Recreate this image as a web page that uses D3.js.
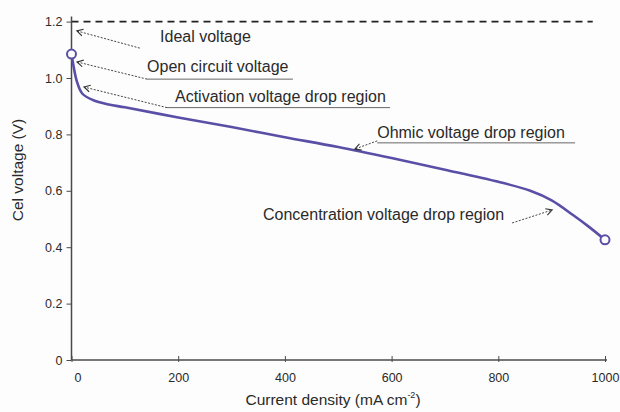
<!DOCTYPE html>
<html>
<head>
<meta charset="utf-8">
<script src="https://cdn.jsdelivr.net/npm/d3@7"></script>
<style>
html,body{margin:0;padding:0;background:#fdfdfd;}
svg{display:block;font-family:"Liberation Sans",Arial,sans-serif;}
</style>
</head>
<body>
<svg id="chart" width="620" height="412"></svg>
<script>
// Data
const currentDensity = [0, 5, 10, 20, 40, 70, 100, 200, 300, 400, 500, 600, 700, 800, 860, 900, 940, 970, 1000];
const cellVoltage    = [1.085, 1.03, 0.988, 0.945, 0.922, 0.906, 0.896, 0.860, 0.826, 0.790, 0.755, 0.716, 0.675, 0.632, 0.600, 0.566, 0.514, 0.472, 0.426];
const idealVoltage = 1.2;
const xTicks = [0, 200, 400, 600, 800, 1000];
const xTickLabels = ["0", "200", "400", "600", "800", "1000"];
const yTicks = [0, 0.2, 0.4, 0.6, 0.8, 1.0, 1.2];
const yTickLabels = ["0", "0.2", "0.4", "0.6", "0.8", "1.0", "1.2"];
const annotationLabels = ["Ideal voltage", "Open circuit voltage", "Activation voltage drop region", "Ohmic voltage drop region", "Concentration voltage drop region"];
// annotation anchors in data units: text start (x, v), arrow from (x,v) to (x,v), underline
const annTextX   = [166, 141.6, 194, 573, 359];
const annTextV   = [1.128, 1.021, 0.915, 0.787, 0.496];
const annFromX   = [128, 141.6, 179, 573, 826];
const annFromV   = [1.106, 0.996, 0.895, 0.777, 0.486];
const annToX     = [10, 10.3, 23.4, 531, 901];
const annToV     = [1.167, 1.057, 0.968, 0.748, 0.532];
const annUnderV  = [null, 0.996, 0.895, 0.770, null];
const annUnderX0 = [null, 141.6, 179, 573, null];
const annUnderX1 = [null, 415, 597, 944, null];

const svg = d3.select("#chart");
const x = d3.scaleLinear().domain([0, 1000]).range([71.5, 605]);
const y = d3.scaleLinear().domain([0, 1.2]).range([360, 21.6]);
const purple = "#5a4fa6";
const textCol = "#2a2a2a";
const axisCol = "#4a4a4a";

// Ideal voltage dashed line
svg.append("line")
  .attr("x1", x(0)).attr("x2", x(977))
  .attr("y1", y(idealVoltage)).attr("y2", y(idealVoltage))
  .attr("stroke", "#222").attr("stroke-width", 1.6)
  .attr("stroke-dasharray", "7,5");

// Y axis
const yAxis = d3.axisLeft(y).tickValues(yTicks)
  .tickFormat((d, i) => yTickLabels[i]).tickSize(5).tickPadding(4);
const gy = svg.append("g").attr("transform", `translate(${x(0)},0)`).call(yAxis);
gy.select(".domain").attr("stroke", axisCol).attr("stroke-width", 1.5)
  .attr("d", `M0,${y(0)}V${y(1.2) - 5}`);
gy.selectAll(".tick line").attr("stroke", axisCol);
gy.selectAll(".tick text").attr("fill", textCol).attr("font-size", 12.5)
  .attr("font-family", "Liberation Sans, Arial, sans-serif");

// X axis
const xAxis = d3.axisBottom(x).tickValues(xTicks).tickFormat((d, i) => xTickLabels[i])
  .tickSizeInner(3).tickSizeOuter(0).tickPadding(10);
const gx = svg.append("g").attr("transform", `translate(0,${y(0)})`).call(xAxis);
gx.select(".domain").attr("stroke", axisCol).attr("stroke-width", 1.5)
  .attr("d", `M${x(0)},0H${x(1000) + 2}`);
gx.selectAll(".tick line").attr("stroke", axisCol).attr("y1", -4).attr("y2", 2);
gx.selectAll(".tick text").attr("fill", textCol).attr("font-size", 12.5)
  .attr("font-family", "Liberation Sans, Arial, sans-serif")
  .attr("dx", d => d === 0 ? 6 : 0);

// Axis titles
const xt = svg.append("text").attr("x", 333).attr("y", 405)
  .attr("text-anchor", "middle").attr("fill", textCol).attr("font-size", 15.5);
xt.append("tspan").text("Current density (mA cm");
xt.append("tspan").text("-2").attr("font-size", 9).attr("dy", -7);
xt.append("tspan").text(")").attr("dy", 7);

svg.append("text").attr("transform", "translate(23,170) rotate(-90)")
  .attr("text-anchor", "middle").attr("fill", textCol).attr("font-size", 15.5)
  .text("Cel voltage (V)");

// Curve
const line = d3.line().x((d, i) => x(currentDensity[i])).y(d => y(d)).curve(d3.curveCatmullRom.alpha(0.5));
svg.append("path").datum(cellVoltage)
  .attr("d", line).attr("fill", "none")
  .attr("stroke", purple).attr("stroke-width", 2.6);

// End circles
const ends = [0, currentDensity.length - 1];
svg.selectAll("circle.end").data(ends).enter().append("circle")
  .attr("cx", i => x(currentDensity[i])).attr("cy", i => y(cellVoltage[i]))
  .attr("r", 4.5).attr("fill", "#fdfdfd")
  .attr("stroke", purple).attr("stroke-width", 2);

// Annotations
annotationLabels.forEach((label, i) => {
  const x1 = x(annFromX[i]), y1 = y(annFromV[i]);
  const x2 = x(annToX[i]), y2 = y(annToV[i]);
  svg.append("line").attr("x1", x1).attr("y1", y1).attr("x2", x2).attr("y2", y2)
    .attr("stroke", "#444").attr("stroke-width", 1).attr("stroke-dasharray", "2,1.5");
  const ang = Math.atan2(y2 - y1, x2 - x1);
  const L = 7, w = 0.5;
  const p1 = [x2 - L * Math.cos(ang - w), y2 - L * Math.sin(ang - w)];
  const p2 = [x2 - L * Math.cos(ang + w), y2 - L * Math.sin(ang + w)];
  svg.append("path").attr("d", `M${p1}L${x2},${y2}L${p2}`)
    .attr("fill", "none").attr("stroke", "#333").attr("stroke-width", 1.1);
  if (annUnderV[i] !== null) {
    svg.append("line").attr("x1", x(annUnderX0[i])).attr("x2", x(annUnderX1[i]))
      .attr("y1", y(annUnderV[i])).attr("y2", y(annUnderV[i]))
      .attr("stroke", "#666").attr("stroke-width", 1);
  }
  svg.append("text").attr("x", x(annTextX[i])).attr("y", y(annTextV[i]))
    .attr("fill", textCol).attr("font-size", 16).text(label);
});
</script>
</body>
</html>
